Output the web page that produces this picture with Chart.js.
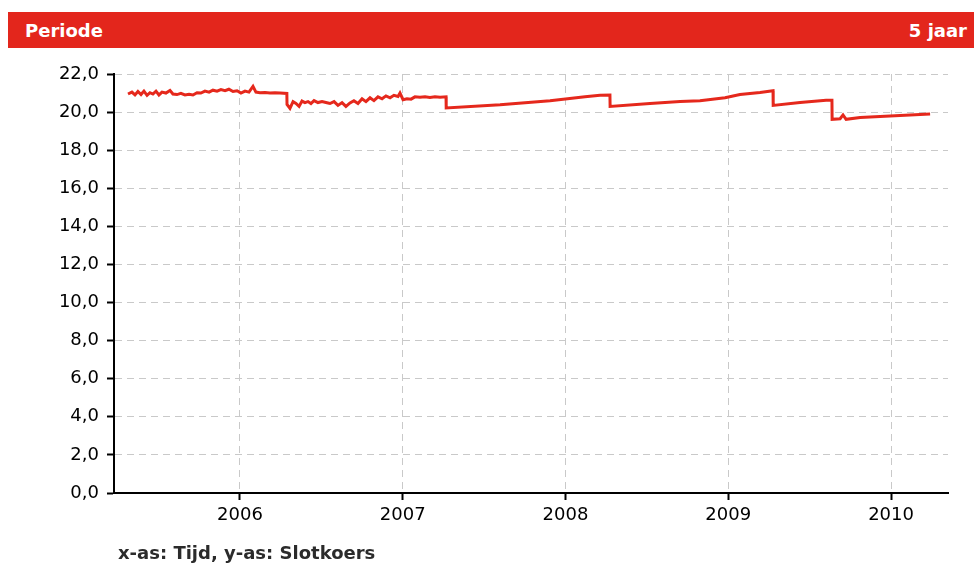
<!DOCTYPE html>
<html>
<head>
<meta charset="utf-8">
<script src="https://cdn.jsdelivr.net/npm/chart.js@4.4.0/dist/chart.umd.min.js"></script>
<style>
    html, body { margin: 0; padding: 0; background: #fff; }
    #wrap { position: relative; width: 974px; height: 563px; }
    #kop {
        position: absolute; left: 8px; top: 12px; width: 966px; height: 36px;
        background: #e3261c; color: #fff;
        font: bold 18px "DejaVu Sans", sans-serif;
        display: flex; justify-content: space-between; align-items: center;
        box-sizing: border-box; padding: 0 7px 0 17px;
    }
    #voet {
        position: absolute; left: 118px; top: 542px;
        font: bold 18px "DejaVu Sans", sans-serif; color: #2b2b2b;
    }
    #grafiek { position: absolute; left: 0; top: 0; width: 974px; height: 563px; }
</style>
</head>
<body>
<div id="wrap">
    <div id="grafiek"><canvas id="slotkoers"></canvas></div>
    <div id="kop"><span>Periode</span><span>5 jaar</span></div>
    <div id="voet">x-as: Tijd, y-as: Slotkoers</div>
</div>
<script>
// tijd als decimaal jaar, koers in euro
const tijd = [
    2005.312, 2005.336, 2005.355, 2005.373, 2005.392, 2005.410, 2005.429, 2005.447, 2005.465, 2005.484,
    2005.502, 2005.521, 2005.545, 2005.570, 2005.588, 2005.613, 2005.637, 2005.662, 2005.687, 2005.711,
    2005.736, 2005.760, 2005.785, 2005.810, 2005.834, 2005.859, 2005.883, 2005.908, 2005.932, 2005.957,
    2005.982, 2006.006, 2006.031, 2006.055, 2006.080, 2006.098, 2006.123, 2006.154, 2006.184, 2006.215,
    2006.246, 2006.288, 2006.289, 2006.307, 2006.326, 2006.344, 2006.363, 2006.381, 2006.399, 2006.418,
    2006.436, 2006.455, 2006.479, 2006.504, 2006.528, 2006.553, 2006.578, 2006.602, 2006.627, 2006.651,
    2006.676, 2006.700, 2006.725, 2006.750, 2006.774, 2006.799, 2006.823, 2006.848, 2006.873, 2006.897,
    2006.922, 2006.946, 2006.971, 2006.983, 2007.002, 2007.026, 2007.051, 2007.075, 2007.106, 2007.137,
    2007.167, 2007.198, 2007.229, 2007.266, 2007.267, 2007.598, 2007.905, 2008.120, 2008.212, 2008.273,
    2008.274, 2008.519, 2008.704, 2008.826, 2008.980, 2009.072, 2009.195, 2009.275, 2009.276, 2009.441,
    2009.601, 2009.637, 2009.638, 2009.687, 2009.705, 2009.724, 2009.810, 2009.994, 2010.240
];
const koers = [
    20.95, 21.05, 20.90, 21.08, 20.92, 21.10, 20.88, 21.02, 20.95, 21.10,
    20.90, 21.05, 21.00, 21.14, 20.95, 20.92, 20.98, 20.90, 20.93, 20.90,
    21.02, 21.00, 21.10, 21.05, 21.15, 21.10, 21.18, 21.12, 21.20, 21.08,
    21.12, 21.00, 21.10, 21.05, 21.35, 21.05, 21.02, 21.03, 21.00, 21.02,
    21.00, 20.98, 20.40, 20.20, 20.55, 20.45, 20.30, 20.58, 20.50, 20.55,
    20.45, 20.60, 20.50, 20.55, 20.50, 20.45, 20.55, 20.35, 20.50, 20.30,
    20.48, 20.60, 20.45, 20.70, 20.55, 20.75, 20.60, 20.80, 20.70, 20.85,
    20.75, 20.88, 20.82, 21.00, 20.65, 20.70, 20.68, 20.80, 20.78, 20.80,
    20.77, 20.80, 20.78, 20.80, 20.22, 20.38, 20.60, 20.80, 20.88, 20.90,
    20.30, 20.45, 20.55, 20.60, 20.75, 20.92, 21.03, 21.12, 20.35, 20.50,
    20.62, 20.62, 19.62, 19.65, 19.85, 19.62, 19.72, 19.80, 19.90
];
const jaren = [2006, 2007, 2008, 2009, 2010];
const xMin = 2005.226;
const xMax = 2010.350;

const ctx = document.getElementById("slotkoers");

new Chart(ctx, {
    type: "line",
    data: {
        datasets: [{
            data: tijd.map((t, i) => ({ x: t, y: koers[i] })),
            borderColor: "#e5281c",
            borderWidth: 3,
            pointRadius: 0,
            tension: 0,
            fill: false
        }]
    },
    options: {
        responsive: true,
        maintainAspectRatio: false,
        animation: false,
        layout: { padding: { top: 74, right: 26, bottom: 30, left: 0 } },
        plugins: { legend: { display: false }, tooltip: { enabled: false } },
        scales: {
            x: {
                type: "linear",
                min: xMin,
                max: xMax,
                afterBuildTicks: s => { s.ticks = jaren.map(v => ({ value: v })); },
                afterFit: s => { s.height = 40; },
                ticks: {
                    color: "#000",
                    font: { family: "DejaVu Sans", size: 18 },
                    padding: 5,
                    maxRotation: 0,
                    callback: v => String(v)
                },
                grid: { color: "#c9c9c9", tickColor: "#000", tickLength: 7, tickWidth: 2 },
                border: { color: "#000", width: 2, dash: [7, 5] }
            },
            y: {
                min: 0,
                max: 22,
                afterFit: s => { s.width = 114; },
                ticks: {
                    stepSize: 2,
                    color: "#000",
                    font: { family: "DejaVu Sans", size: 18 },
                    padding: 8,
                    callback: v => v.toFixed(1).replace(".", ",")
                },
                grid: { color: "#c9c9c9", tickColor: "#000", tickLength: 7, tickWidth: 2 },
                border: { color: "#000", width: 2, dash: [7, 5] }
            }
        }
    }
});
</script>
</body>
</html>
